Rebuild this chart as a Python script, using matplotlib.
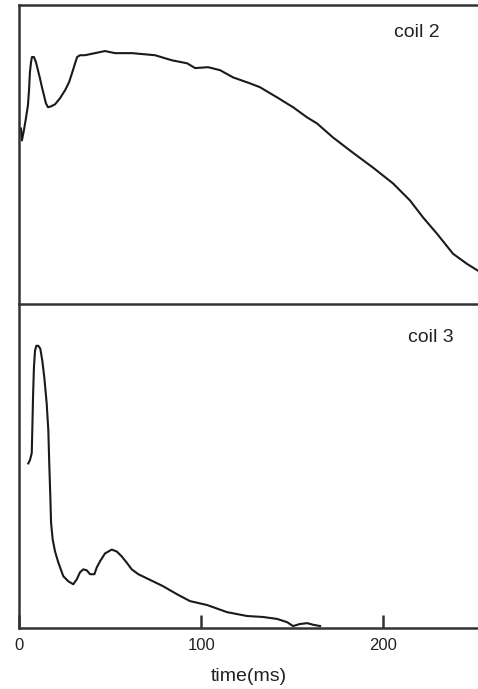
"""
coil 2 / coil 3 信号随时间变化
"""
import numpy as np
import matplotlib
matplotlib.use('Agg')
import matplotlib.pyplot as plt

plt.rcParams['font.family'] = ['Liberation Sans', 'DejaVu Sans']

# coil 2 (上图)
t_coil2 = [1.1, 1.6, 2.7, 3.8, 4.9, 5.5, 6.0, 6.6, 7.1, 8.2, 9.3, 10.4, 11.5,
           12.6, 13.7, 14.8, 15.9, 17.6, 19.8, 22.5, 25.3, 27.5, 29.1, 30.8,
           31.9, 33.5, 36.2, 41.7, 47.2, 52.7, 62.1, 74.7, 84.0, 92.3, 96.7,
           103.8, 110.4, 117.5, 126.8, 132.3, 141.7, 150.5, 158.2, 163.6, 172.4,
           181.8, 194.4, 205.4, 214.7, 221.9, 229.5, 238.3, 246.0, 252.1]
v_coil2 = [0.587, 0.547, 0.581, 0.621, 0.664, 0.715, 0.775, 0.809, 0.826, 0.826,
           0.809, 0.782, 0.755, 0.725, 0.698, 0.671, 0.658, 0.661, 0.668, 0.688,
           0.715, 0.742, 0.772, 0.805, 0.826, 0.832, 0.832, 0.839, 0.846, 0.839,
           0.839, 0.832, 0.815, 0.805, 0.789, 0.792, 0.782, 0.758, 0.738, 0.725,
           0.691, 0.658, 0.624, 0.604, 0.557, 0.513, 0.456, 0.403, 0.346, 0.289,
           0.235, 0.168, 0.134, 0.111]

# coil 3 (下图)
t_coil3 = [5.1, 6.0, 7.0, 7.3, 7.7, 8.2, 8.8, 9.5, 10.6, 11.7, 12.8, 13.9, 15.2,
           16.1, 16.6, 17.2, 17.6, 18.5, 19.8, 21.6, 24.3, 27.1, 29.8, 31.7, 33.5,
           35.3, 37.2, 39.0, 41.4, 42.7, 44.5, 47.2, 50.9, 53.7, 56.4, 59.1, 61.9,
           65.5, 69.2, 79.1, 86.8, 93.9, 103.2, 114.2, 125.2, 134.0, 141.7, 147.2,
           150.5, 154.0, 158.2, 161.5, 165.3]
v_coil3 = [0.508, 0.518, 0.540, 0.610, 0.712, 0.804, 0.856, 0.871, 0.871, 0.862,
           0.825, 0.773, 0.693, 0.610, 0.509, 0.405, 0.325, 0.273, 0.236, 0.202,
           0.160, 0.144, 0.135, 0.150, 0.172, 0.181, 0.178, 0.166, 0.166, 0.187,
           0.206, 0.230, 0.242, 0.236, 0.221, 0.202, 0.181, 0.166, 0.156, 0.129,
           0.104, 0.083, 0.071, 0.049, 0.037, 0.034, 0.028, 0.018, 0.006, 0.012,
           0.015, 0.010, 0.006]

x_ticks = [0, 100, 200]
x_tick_labels = ['0', '100', '200']

W, H = 478, 689
fig = plt.figure(figsize=(W / 100, H / 100), dpi=100)

left = 19 / W
ax_bot = fig.add_axes([left, 1 - 628 / H, 1 - left, (628 - 304) / H])
ax_top = fig.add_axes([left, 1 - 304 / H, 1 - left, (304 - 5) / H],
                      sharex=ax_bot)

spine_color = '#333333'
line_color = '#1a1a1a'

for ax in (ax_top, ax_bot):
    ax.set_facecolor('none')
    ax.spines['right'].set_visible(False)
    for s in ('left', 'top', 'bottom'):
        ax.spines[s].set_color(spine_color)
        ax.spines[s].set_linewidth(1.8)
    ax.set_yticks([])
    ax.set_ylim(0, 1)

ax_bot.spines['top'].set_visible(False)

ax_top.plot(t_coil2, v_coil2, color=line_color, linewidth=1.5)
ax_bot.plot(t_coil3, v_coil3, color=line_color, linewidth=1.5)

ax_bot.set_xlim(0, 252)
ax_top.tick_params(axis='x', bottom=False, labelbottom=False)

ax_bot.set_xticks(x_ticks)
ax_bot.set_xticklabels(x_tick_labels)
ax_bot.tick_params(axis='x', direction='in', length=9.5, width=1.8,
                   color=spine_color, pad=7, labelsize=12,
                   labelcolor='#222222')
ax_bot.set_xlabel('time(ms)', fontsize=14, color='#222222', labelpad=11)

ax_top.text(0.867, 0.909, 'coil 2', transform=ax_top.transAxes,
            ha='center', va='center', fontsize=14, color='#222222')
ax_bot.text(0.898, 0.896, 'coil 3', transform=ax_bot.transAxes,
            ha='center', va='center', fontsize=14, color='#222222')

fig.savefig('out.png', dpi=100, facecolor='white')
